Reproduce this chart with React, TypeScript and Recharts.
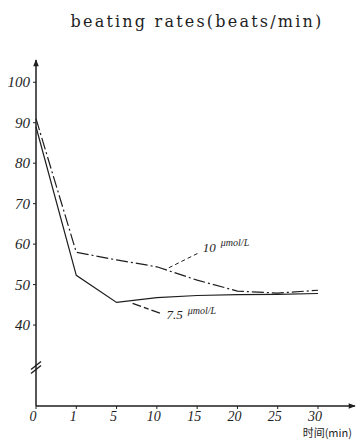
import React from 'react';
import { LineChart, Line, XAxis, YAxis, ReferenceDot } from 'recharts';

// time points (min) on the x axis, spaced evenly as in the figure
const times = ['0', '1', '5', '10', '15', '20', '25', '30'];
const rate75 = [89, 52.3, 45.6, 46.8, 47.3, 47.5, 47.6, 47.8];
const rate10 = [91, 58, 56.1, 54.4, 51.1, 48.4, 47.9, 48.6];
const yTicks = [40, 50, 60, 70, 80, 90, 100];

const data = times.map((t, i) => ({ t, r75: rate75[i], r10: rate10[i] }));

const ink = '#1e1e1e';
const serif = '"Liberation Serif", "DejaVu Serif", serif';

const XTick = (p: any) => (
  <text x={p.x - 3} y={p.y + 11} textAnchor="middle" fill={ink} style={{ fontFamily: serif, fontStyle: 'italic', fontSize: 14 }}>
    {p.payload.value}
  </text>
);

const YTick = (p: any) => (
  <text x={p.x} y={p.y + 5} textAnchor="end" fill={ink} style={{ fontFamily: serif, fontStyle: 'italic', fontSize: 15 }}>
    {p.payload.value}
  </text>
);

const label10 = (p: any) => {
  if (p.index !== 3) return null;
  const { x, y } = p;
  return (
    <g>
      <line x1={x + 12} y1={y + 1} x2={x + 42} y2={y - 14} stroke={ink} strokeWidth={1} strokeDasharray="4 3" />
      <text x={x + 46} y={y - 15} fill={ink} style={{ fontFamily: serif, fontStyle: 'italic', fontSize: 13 }}>
        10
        <tspan dx={5} dy={-6} fontSize={10}>μmol/L</tspan>
      </text>
    </g>
  );
};

const label75 = (p: any) => {
  if (p.index !== 2) return null;
  const { x, y } = p;
  return (
    <g>
      <line x1={x + 16} y1={y + 1} x2={x + 44} y2={y + 11} stroke={ink} strokeWidth={1.3} strokeDasharray="9 3 5 3" />
      <text x={x + 50} y={y + 17} fill={ink} style={{ fontFamily: serif, fontStyle: 'italic', fontSize: 13 }}>
        7.5
        <tspan dx={5} dy={-5} fontSize={10}>μmol/L</tspan>
      </text>
    </g>
  );
};

const BreakMark = (p: any) => {
  const { cx, cy } = p;
  return (
    <g stroke={ink} strokeWidth={1.4}>
      <line x1={cx - 5} y1={cy + 2} x2={cx + 5} y2={cy - 6} />
      <line x1={cx - 5} y1={cy + 6} x2={cx + 5} y2={cy - 2} />
    </g>
  );
};

export default function App() {
  return (
    <div style={{ position: 'absolute', left: 0, top: 0, width: 364, height: 440, background: '#fff' }}>
      <svg width={0} height={0} style={{ position: 'absolute' }}>
        <defs>
          <marker id="arrow" viewBox="0 0 10 10" refX={9} refY={5} markerWidth={9} markerHeight={7} orient="auto-start-reverse" markerUnits="userSpaceOnUse">
            <path d="M0,1 L10,5 L0,9 Z" fill={ink} />
          </marker>
        </defs>
      </svg>
      <div
        style={{
          position: 'absolute',
          left: 0,
          top: 12,
          width: 394,
          textAlign: 'center',
          fontFamily: '"DejaVu Serif", serif',
          fontSize: 16,
          letterSpacing: 2.2,
          color: ink,
        }}
      >
        beating rates(beats/min)
      </div>
      <LineChart width={364} height={440} data={data} margin={{ top: 60, right: 9, bottom: 0, left: 0 }}>
        <XAxis
          dataKey="t"
          height={34}
          padding={{ left: 0, right: 37 }}
          axisLine={{ stroke: ink, strokeWidth: 1.5, markerEnd: 'url(#arrow)' }}
          tickLine={{ stroke: ink }}
          tickSize={3}
          tickMargin={1}
          tick={XTick}
          interval={0}
          label={{
            value: '时间(min)',
            position: 'insideBottomRight',
            offset: 3,
            fill: ink,
            fontSize: 11,
            fontFamily: '"Noto Sans CJK SC", sans-serif',
          }}
        />
        <YAxis
          width={36}
          domain={[20, 105.5]}
          ticks={yTicks}
          allowDataOverflow
          axisLine={{ stroke: ink, strokeWidth: 1.5, markerStart: 'url(#arrow)' }}
          tickLine={{ stroke: ink }}
          tickSize={3}
          tickMargin={3}
          tick={YTick}
        />
        <Line
          dataKey="r75"
          type="linear"
          stroke={ink}
          strokeWidth={1.2}
          dot={false}
          isAnimationActive={false}
          label={label75}
        />
        <Line
          dataKey="r10"
          type="linear"
          stroke={ink}
          strokeWidth={1.2}
          strokeDasharray="12 3 2 3"
          dot={false}
          isAnimationActive={false}
          label={label10}
        />
        <ReferenceDot x="0" y={29.5} r={0} shape={BreakMark} ifOverflow="visible" />
      </LineChart>
    </div>
  );
}
